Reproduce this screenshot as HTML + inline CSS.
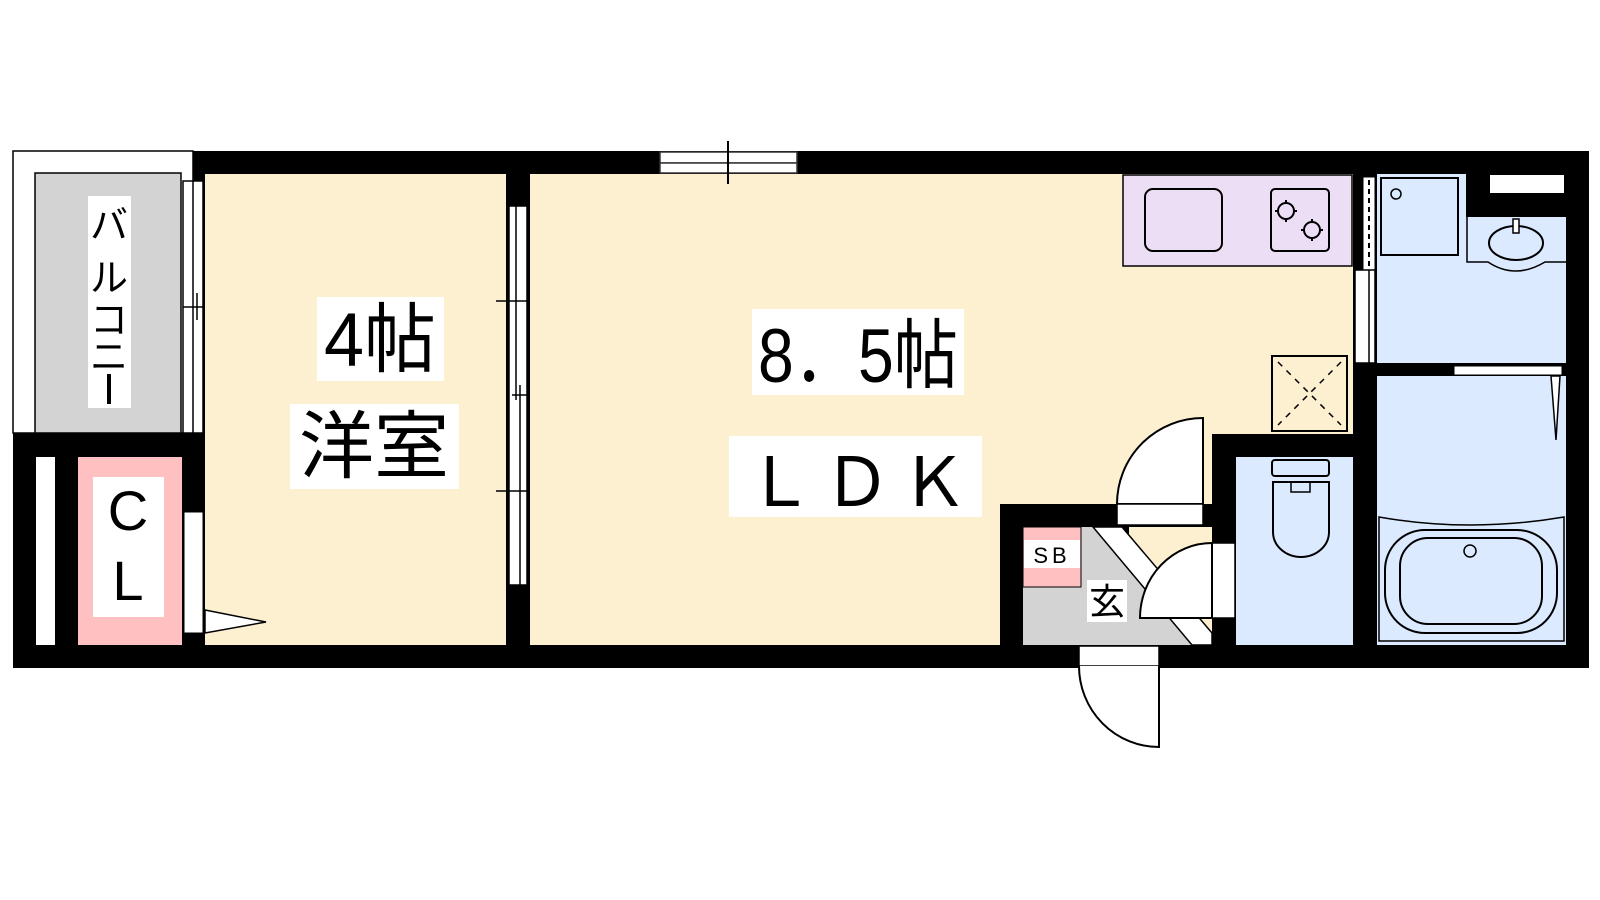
<!DOCTYPE html>
<html><head><meta charset="utf-8"><style>
html,body{margin:0;padding:0;background:#fff;width:1600px;height:900px;overflow:hidden}
svg{display:block}
text{font-family:"Liberation Sans","Noto Sans CJK JP",sans-serif;fill:#000}
</style></head><body>
<svg width="1600" height="900" viewBox="0 0 1600 900" xmlns="http://www.w3.org/2000/svg">
<rect x="181" y="151" width="1408" height="517" fill="#000"/>
<rect x="13" y="433" width="195" height="235" fill="#000"/>
<!-- balcony -->
<rect x="13" y="151" width="180" height="282" fill="#fff" stroke="#000" stroke-width="1.5"/>
<rect x="35" y="173" width="146" height="260" fill="#d3d3d3" stroke="#000" stroke-width="1.5"/>
<rect x="183" y="181" width="20" height="252" fill="#fff" stroke="#000" stroke-width="1.5"/>
<line x1="193" y1="181" x2="193" y2="433" stroke="#000" stroke-width="1.5"/>
<line x1="183" y1="307" x2="203" y2="307" stroke="#000" stroke-width="1.5"/>
<line x1="197" y1="293" x2="197" y2="320" stroke="#000" stroke-width="1.5"/>
<rect x="88" y="196" width="43" height="212" fill="#fff"/>
<text font-size="38" text-anchor="middle"><tspan x="109" y="238">バ</tspan><tspan x="109" y="291">ル</tspan><tspan x="109" y="333">コ</tspan><tspan x="109" y="370">ニ</tspan></text>
<line x1="109" y1="374" x2="109" y2="404" stroke="#000" stroke-width="4"/>
<!-- CL -->
<rect x="36" y="457" width="19" height="188" fill="#fff"/>
<rect x="78" y="457" width="104" height="188" fill="#fec0c0"/>
<rect x="93" y="477" width="71" height="140" fill="#fff"/>
<text x="128" y="530" font-size="56" text-anchor="middle">C</text>
<text x="128" y="600" font-size="56" text-anchor="middle">L</text>
<rect x="184" y="512" width="19" height="121" fill="#fff" stroke="#000" stroke-width="1"/>
<!-- 4 room -->
<rect x="205" y="174" width="301" height="471" fill="#fdf0d0"/>
<polygon points="205,610 266,622 205,633" fill="#fff" stroke="#000" stroke-width="1.5"/>
<rect x="317" y="297" width="127" height="84" fill="#fff"/>
<text x="380" y="366" font-size="76" text-anchor="middle" textLength="112" lengthAdjust="spacingAndGlyphs">4帖</text>
<rect x="290" y="404" width="169" height="85" fill="#fff"/>
<text x="374" y="472" font-size="74" text-anchor="middle" textLength="150" lengthAdjust="spacingAndGlyphs">洋室</text>
<!-- partition window -->
<rect x="509" y="206" width="18" height="379" fill="#fff" stroke="#000" stroke-width="1.5"/>
<line x1="516" y1="206" x2="516" y2="400" stroke="#000" stroke-width="1.5"/>
<line x1="520" y1="385" x2="520" y2="585" stroke="#000" stroke-width="1.5"/>
<line x1="496" y1="301" x2="538" y2="301" stroke="#000" stroke-width="1.5"/>
<line x1="496" y1="491" x2="538" y2="491" stroke="#000" stroke-width="1.5"/>
<line x1="512" y1="395" x2="528" y2="395" stroke="#000" stroke-width="1.5"/>
<!-- LDK -->
<rect x="530" y="174" width="823" height="260" fill="#fdf0d0"/>
<rect x="530" y="434" width="470" height="211" fill="#fdf0d0"/>
<rect x="1000" y="434" width="212" height="70" fill="#fdf0d0"/>
<rect x="660" y="152" width="137" height="11" fill="#fff" stroke="#333" stroke-width="1.5"/>
<rect x="660" y="163" width="137" height="10" fill="#fff" stroke="#333" stroke-width="1.5"/>
<line x1="728" y1="141" x2="728" y2="184" stroke="#000" stroke-width="2"/>
<rect x="752" y="309" width="212" height="86" fill="#fff"/>
<text x="858" y="382" font-size="76" text-anchor="middle" textLength="200" lengthAdjust="spacingAndGlyphs">8．5帖</text>
<rect x="729" y="436" width="253" height="81" fill="#fff"/>
<text x="857" y="506" font-size="68" text-anchor="middle" textLength="222" lengthAdjust="spacing">ＬＤＫ</text>
<!-- kitchen -->
<rect x="1123" y="175" width="229" height="91" fill="#ecdff5" stroke="#000" stroke-width="1.5"/>
<rect x="1145" y="189" width="77" height="62" rx="8" fill="none" stroke="#000" stroke-width="2"/>
<rect x="1271" y="189" width="58" height="62" rx="4" fill="none" stroke="#000" stroke-width="2"/>
<g stroke="#000" stroke-width="2" fill="none">
<circle cx="1286" cy="211" r="8"/><circle cx="1312" cy="230" r="8"/>
<path d="M1275,211h4M1293,211h4M1286,200v4M1286,218v4M1301,230h4M1319,230h4M1312,219v4M1312,237v4"/>
</g>
<rect x="1363" y="177" width="12" height="93" fill="#fff" stroke="#000" stroke-width="1"/>
<line x1="1369" y1="180" x2="1369" y2="268" stroke="#000" stroke-width="2" stroke-dasharray="5,4"/>
<rect x="1355" y="270" width="20" height="93" fill="#fff" stroke="#000" stroke-width="1.5"/>
<line x1="1369" y1="270" x2="1369" y2="363" stroke="#000" stroke-width="1.5"/>
<rect x="1272" y="356" width="75" height="75" fill="#fdf0d0" stroke="#000" stroke-width="2"/>
<line x1="1278" y1="362" x2="1341" y2="425" stroke="#000" stroke-width="1.5" stroke-dasharray="6,6"/>
<line x1="1341" y1="362" x2="1278" y2="425" stroke="#000" stroke-width="1.5" stroke-dasharray="6,6"/>
<!-- washroom -->
<rect x="1377" y="174" width="89" height="189" fill="#dbeafe"/>
<rect x="1466" y="217" width="100" height="146" fill="#dbeafe"/>
<rect x="1490" y="175" width="74" height="18" fill="#fff"/>
<rect x="1381" y="178" width="77" height="77" fill="none" stroke="#000" stroke-width="2"/>
<circle cx="1396" cy="194" r="5" fill="none" stroke="#000" stroke-width="1.5"/>
<path d="M1467,217 L1467,262 L1488,262 Q1515,280 1545,262 L1566,262" fill="none" stroke="#000" stroke-width="1.5"/>
<ellipse cx="1516" cy="243" rx="27" ry="17" fill="none" stroke="#000" stroke-width="2"/>
<rect x="1513" y="219" width="6" height="14" fill="#fff" stroke="#000" stroke-width="1.5"/>
<rect x="1454" y="366" width="108" height="9" fill="#fff" stroke="#000" stroke-width="1"/>
<!-- bath -->
<rect x="1377" y="376" width="189" height="269" fill="#dbeafe"/>
<polygon points="1551,376 1560,376 1556,440" fill="#fff" stroke="#000" stroke-width="1.5"/>
<path d="M1379,641 L1379,517 Q1470,533 1564,517 L1564,641 Z" fill="none" stroke="#000" stroke-width="1.5"/>
<rect x="1385" y="530" width="172" height="103" rx="40" fill="none" stroke="#000" stroke-width="2"/>
<rect x="1400" y="538" width="142" height="86" rx="28" fill="none" stroke="#000" stroke-width="2"/>
<circle cx="1470" cy="551" r="6" fill="none" stroke="#000" stroke-width="1.5"/>
<!-- toilet -->
<rect x="1236" y="457" width="117" height="188" fill="#dbeafe"/>
<rect x="1272" y="460" width="57" height="16" rx="3" fill="none" stroke="#000" stroke-width="2"/>
<path d="M1273,482 L1329,482 L1329,532 A28,25 0 0 1 1273,532 Z" fill="none" stroke="#000" stroke-width="2"/>
<path d="M1291,482 L1291,492 L1310,492 L1310,482" fill="none" stroke="#000" stroke-width="1.5"/>
<!-- entry -->
<rect x="1129" y="527" width="83" height="118" fill="#fdf0d0"/>
<polygon points="1023,527 1093,527 1192,645 1023,645" fill="#d3d3d3"/>
<polygon points="1093,527 1122,527 1212,633 1212,645 1192,645" fill="#fff" stroke="#000" stroke-width="1.5"/>
<rect x="1023" y="527" width="58" height="60" fill="#fec0c0" stroke="#000" stroke-width="1"/>
<rect x="1024" y="540" width="56" height="28" fill="#fff"/>
<text x="1052" y="563" font-size="22" text-anchor="middle" letter-spacing="4">SB</text>
<rect x="1087" y="580" width="40" height="42" fill="#fff"/>
<text x="1107" y="614" font-size="36" text-anchor="middle">玄</text>
<path d="M1203,418 A86,86 0 0 0 1117,504 L1203,504 Z" fill="#fff" stroke="#000" stroke-width="2"/>
<rect x="1117" y="504" width="86" height="21" fill="#fff" stroke="#000" stroke-width="1.5"/>
<rect x="1212" y="543" width="23" height="75" fill="#fff" stroke="#000" stroke-width="1.5"/>
<path d="M1212,543 A72,75 0 0 0 1140,618 L1212,618 Z" fill="#fff" stroke="#000" stroke-width="2"/>
<rect x="1079" y="646" width="80" height="20" fill="#fff" stroke="#000" stroke-width="1.5"/>
<path d="M1079,666 A80,81 0 0 0 1159,747 L1159,666" fill="#fff" stroke="#000" stroke-width="2"/>
</svg>
</body></html>
